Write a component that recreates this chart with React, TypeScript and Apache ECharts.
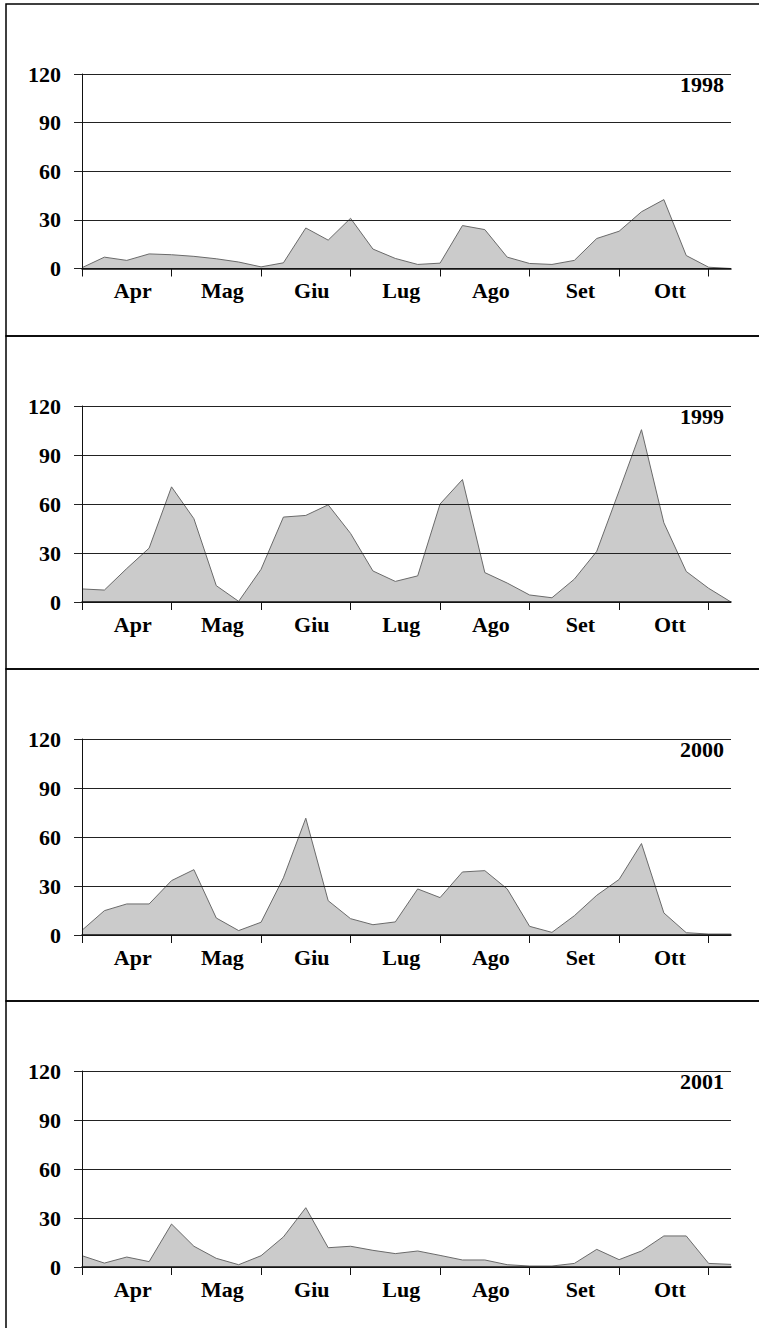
import React, { useEffect, useRef } from "react";
import * as echarts from "echarts";

const months = ["Apr", "Mag", "Giu", "Lug", "Ago", "Set", "Ott"];
const years = ["1998", "1999", "2000", "2001"];
const yTicks = [0, 30, 60, 90, 120];

const v1998 = [0.5, 7, 5, 9, 8.5, 7.5, 6, 4, 1, 3.5, 25, 17.5, 31, 12, 6.2, 2.5, 3.3, 26.5, 24, 7, 3.1, 2.5, 5, 18.5, 23, 35, 42.5, 8, 0.8, 0];
const v1999 = [8, 7.3, 20.5, 33, 70.5, 51, 10, 0.4, 20, 52, 53, 59.5, 42, 19, 12.6, 16, 60, 75, 18, 11.6, 4.3, 2.6, 14, 31, 68, 105.5, 48.5, 18.7, 8.4, 0];
const v2000 = [2.9, 14.9, 19, 19, 33.3, 40, 10.4, 2.7, 7.8, 35, 71.5, 21, 10, 6.3, 8, 28.2, 22.9, 38.6, 39.4, 28.2, 5.3, 1.6, 11.8, 24.3, 34, 56, 13.5, 1.4, 0.6, 0.6];
const v2001 = [6.9, 2.4, 6.1, 3.3, 26.3, 12.7, 5.3, 1.4, 6.9, 18.4, 36.3, 11.8, 12.7, 10.2, 8.2, 9.8, 7.1, 4.3, 4.3, 1.4, 0.6, 0.6, 2.2, 10.8, 4.5, 9.8, 19, 19, 2.2, 1.6];

const seriesValues = [v1998, v1999, v2000, v2001];
const weeks = v1998.map((_, i) => "S" + (i + 1));

const panelTops = [4, 336, 669, 1001];
const panelHeights = [332, 333, 332, 340];
const gridTops = [74, 406, 739, 1071];
const gridHeights = [194.5, 196, 196, 196];

const FONT = "Liberation Serif";

export default function App() {
  const ref = useRef<HTMLDivElement>(null);
  useEffect(() => {
    if (!ref.current) return;
    const chart = echarts.init(ref.current, null, { renderer: "svg" });
    const grids = gridTops.map((t, k) => ({ left: 82, right: 28, top: t, height: gridHeights[k] }));
    const xAxes = gridTops.map((_, k) => ({
      type: "category",
      gridIndex: k,
      data: weeks,
      boundaryGap: false,
      z: 5,
      axisLine: { show: true, lineStyle: { color: "#111", width: 1.5 } },
      axisTick: {
        show: true,
        length: 8,
        interval: (i: number) => i % 4 === 0,
        lineStyle: { color: "#111", width: 1 },
      },
      axisLabel: {
        interval: (i: number) => i % 4 === 2,
        formatter: (_v: string, i: number) => months[(i - 2) / 4] ?? "",
        fontFamily: FONT,
        fontWeight: "bold",
        fontSize: 22,
        color: "#000",
        margin: 11,
        padding: [0, 0, 0, 12],
      },
      splitLine: { show: false },
    }));
    const yAxes = gridTops.map((_, k) => ({
      type: "value",
      gridIndex: k,
      min: yTicks[0],
      max: yTicks[yTicks.length - 1],
      interval: 30,
      z: 5,
      axisLine: { show: true, lineStyle: { color: "#111", width: 1 } },
      axisTick: { show: true, length: 8, lineStyle: { color: "#222", width: 1 } },
      axisLabel: {
        fontFamily: FONT,
        fontWeight: "bold",
        fontSize: 22,
        color: "#000",
        margin: 21,
      },
      splitLine: { show: true, lineStyle: { color: "#222", width: 1 } },
    }));
    const series = seriesValues.map((vals, k) => ({
      type: "line",
      xAxisIndex: k,
      yAxisIndex: k,
      data: vals,
      symbol: "none",
      z: 2,
      lineStyle: { color: "#6a6a6a", width: 1 },
      areaStyle: { color: "#cbcbcb", opacity: 1 },
    }));
    const titles = years.map((y, k) => ({
      text: y,
      right: 35,
      top: gridTops[k] - 1,
      padding: 0,
      textStyle: { fontFamily: FONT, fontWeight: "bold", fontSize: 22, color: "#000" },
    }));
    const graphics = panelTops.map((t, k) => ({
      type: "rect",
      shape: { x: 6, y: t, width: 760, height: panelHeights[k] },
      style: { fill: "none", stroke: "#000", lineWidth: 1.5 },
      silent: true,
      z: 100,
    }));
    chart.setOption({
      animation: false,
      backgroundColor: "#fff",
      title: titles,
      grid: grids,
      xAxis: xAxes,
      yAxis: yAxes,
      series,
      graphic: graphics,
    });
    return () => chart.dispose();
  }, []);
  return (
    <div
      ref={ref}
      style={{ position: "absolute", left: 0, top: 0, width: 759, height: 1328 }}
    />
  );
}
